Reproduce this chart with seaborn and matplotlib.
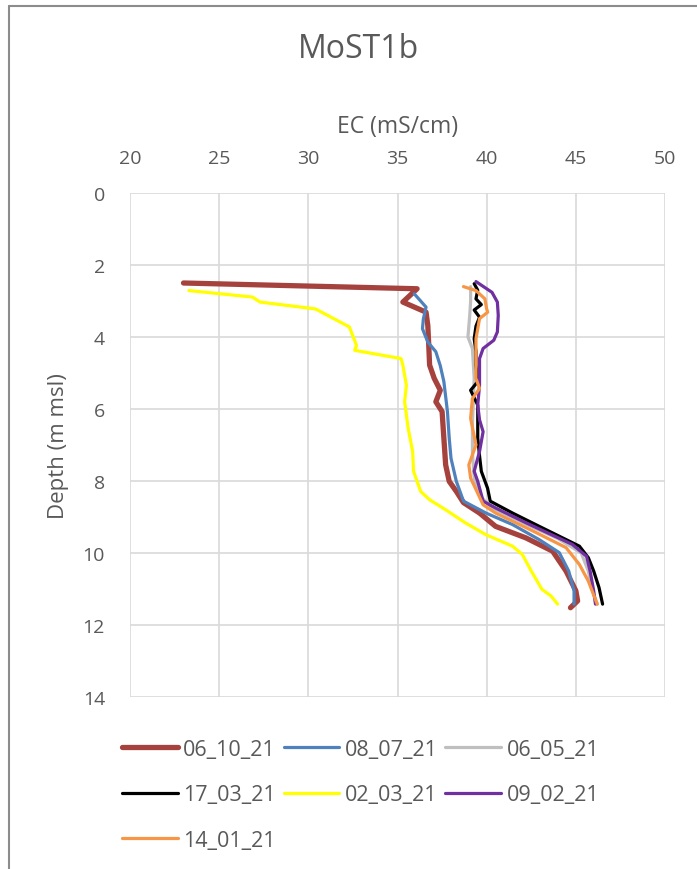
import matplotlib
matplotlib.use("Agg")
import matplotlib.pyplot as plt
from matplotlib.lines import Line2D
import numpy as np
import pandas as pd
import seaborn as sns

# survey dates, in legend order
surveys = ["06_10_21", "08_07_21", "06_05_21", "17_03_21", "02_03_21", "09_02_21", "14_01_21"]
colors = ["#A5423E", "#4F81BD", "#BFBFBF", "#000000", "#FFFF00", "#7030A0", "#F79646"]
widths = [3.8, 2.3, 2.3, 2.3, 2.3, 2.3, 2.3]

# profiles: depth (m msl) and EC (mS/cm)
depth_06_10_21 = [2.50, 2.66, 3.03, 3.31, 3.68, 4.20, 4.78, 5.15, 5.48, 5.80, 6.07, 6.81, 7.55, 8.01,
                  8.29, 8.60, 8.89, 9.26, 9.58, 9.95, 10.50, 11.05, 11.33, 11.52]
ec_06_10_21 = [23.0, 36.1, 35.3, 36.6, 36.7, 36.75, 36.8, 37.06, 37.4, 37.15, 37.5, 37.6, 37.7, 37.9,
               38.3, 38.7, 39.6, 40.5, 42.2, 43.7, 44.45, 45.0, 45.1, 44.7]

depth_08_07_21 = [2.80, 3.17, 3.50, 3.77, 4.14, 4.41, 4.80, 5.24, 6.07, 6.81, 7.37, 8.01, 8.56, 8.89,
                  9.21, 9.63, 9.99, 10.50, 11.05, 11.42]
ec_08_07_21 = [35.94, 36.6, 36.45, 36.4, 36.7, 37.15, 37.4, 37.6, 37.8, 37.9, 38.0, 38.3, 38.7, 39.96,
               41.45, 42.95, 44.07, 44.6, 44.9, 44.9]

depth_06_05_21 = [2.60, 3.00, 3.40, 4.00, 4.32, 5.15, 6.45, 7.20, 7.92, 8.40, 8.75, 9.20, 9.60, 10.0,
                  10.5, 11.0, 11.42]
ec_06_05_21 = [39.1, 39.1, 39.05, 38.95, 39.2, 39.3, 39.2, 39.2, 39.3, 39.6, 40.3, 42.2, 44.0, 45.3,
               45.7, 45.9, 46.2]

depth_17_03_21 = [2.52, 2.70, 2.94, 3.10, 3.25, 3.45, 3.70, 4.05, 4.40, 4.78, 5.24, 5.48, 5.89, 6.40,
                  6.81, 7.30, 7.73, 8.20, 8.56, 8.89, 9.26, 9.81, 10.13, 10.50, 10.96, 11.42]
ec_17_03_21 = [39.3, 39.5, 39.4, 39.7, 39.3, 39.6, 39.4, 39.3, 39.4, 39.4, 39.5, 39.1, 39.5, 39.5,
               39.5, 39.6, 39.7, 40.05, 40.2, 41.45, 42.95, 45.2, 45.7, 46.0, 46.3, 46.5]

depth_02_03_21 = [2.71, 2.89, 3.03, 3.22, 3.72, 4.23, 4.37, 4.60, 4.78, 5.34, 5.80, 6.54, 7.18, 7.73,
                  8.29, 8.52, 8.80, 9.16, 9.49, 9.81, 10.04, 10.50, 11.01, 11.19, 11.42]
ec_02_03_21 = [23.3, 26.86, 27.3, 30.4, 32.3, 32.7, 32.6, 35.2, 35.3, 35.5, 35.4, 35.6, 35.85, 35.9,
               36.3, 36.8, 37.7, 38.8, 39.95, 41.45, 42.0, 42.5, 43.1, 43.6, 43.98]

depth_09_02_21 = [2.46, 2.76, 3.03, 3.40, 3.86, 4.09, 4.32, 4.60, 5.34, 5.89, 6.30, 6.63, 7.18, 7.73,
                  8.01, 8.56, 8.75, 9.16, 9.76, 10.09, 10.50, 11.05, 11.42]
ec_09_02_21 = [39.4, 40.3, 40.6, 40.65, 40.6, 40.4, 39.8, 39.6, 39.6, 39.5, 39.6, 39.8, 39.6, 39.3,
               39.5, 39.8, 40.5, 42.2, 44.8, 45.6, 45.8, 46.0, 46.1]

depth_14_01_21 = [2.60, 2.71, 2.94, 3.22, 3.31, 3.49, 4.05, 5.15, 5.43, 5.71, 6.26, 7.00, 7.55, 7.92,
                  8.66, 8.89, 9.39, 9.85, 10.32, 10.78, 11.42]
ec_14_01_21 = [38.7, 39.4, 39.9, 40.0, 40.06, 39.6, 39.4, 39.4, 39.6, 39.2, 39.1, 39.4, 39.0, 39.1,
               39.8, 40.5, 42.6, 44.45, 45.2, 45.7, 46.2]

profiles = {
    "06_10_21": (depth_06_10_21, ec_06_10_21),
    "08_07_21": (depth_08_07_21, ec_08_07_21),
    "06_05_21": (depth_06_05_21, ec_06_05_21),
    "17_03_21": (depth_17_03_21, ec_17_03_21),
    "02_03_21": (depth_02_03_21, ec_02_03_21),
    "09_02_21": (depth_09_02_21, ec_09_02_21),
    "14_01_21": (depth_14_01_21, ec_14_01_21),
}

x_ticks = [20, 25, 30, 35, 40, 45, 50]
y_ticks = [0, 2, 4, 6, 8, 10, 12, 14]

df = pd.concat(
    [pd.DataFrame({"survey": s, "depth": d, "ec": e}) for s, (d, e) in profiles.items()],
    ignore_index=True,
)

sns.set_theme(style="white")
plt.rcParams["font.family"] = ["Open Sans", "DejaVu Sans"]
text_col = "#595959"

fig = plt.figure(figsize=(6.97, 8.70), dpi=100)
ax = fig.add_axes([130 / 697, 1 - 698 / 870, 535 / 697, 504 / 870])

for s, c, lw in zip(surveys, colors, widths):
    sub = df[df["survey"] == s]
    sns.lineplot(data=sub, x="ec", y="depth", sort=False, estimator=None, color=c,
                 linewidth=lw, solid_capstyle="round", solid_joinstyle="round", ax=ax, label=s)

ax.set_xlim(20, 50)
ax.set_ylim(14, 0)
ax.set_xticks(x_ticks)
ax.set_yticks(y_ticks)
ax.xaxis.tick_top()
ax.xaxis.set_label_position("top")
ax.grid(True, color="#d9d9d9", linewidth=1.2)
for sp in ax.spines.values():
    sp.set_visible(False)
ax.tick_params(axis="x", length=0, pad=19, labelsize=14, labelcolor=text_col)
ax.tick_params(axis="y", length=0, pad=18, labelsize=14, labelcolor=text_col)
ax.set_xlabel("EC (mS/cm)", fontsize=16.5, color=text_col, labelpad=12)
ax.set_ylabel("Depth (m msl)", fontsize=16, color=text_col, labelpad=10)

fig.text(359 / 697, 1 - 50 / 870, "MoST1b", ha="center", va="center", fontsize=23, color=text_col)

# legend laid out row by row (matplotlib fills columns first)
handles, labels = ax.get_legend_handles_labels()
order = [0, 3, 6, 1, 4, 2, 5]
leg = ax.legend([handles[i] for i in order], [labels[i] for i in order], ncol=3,
                loc="upper left", bbox_to_anchor=(122 / 697, 1 - 740 / 870),
                bbox_transform=fig.transFigure, frameon=False, fontsize=15.5,
                handlelength=2.6, handletextpad=0.25, columnspacing=0.35,
                labelspacing=1.13, borderpad=0, borderaxespad=0)
for t in leg.get_texts():
    t.set_color(text_col)

# chart-area border (only top and left edges fall inside the picture)
fig.add_artist(Line2D([9 / 697, 1.0], [1 - 7 / 870] * 2, transform=fig.transFigure,
                      color="#8c8c8c", linewidth=1.5))
fig.add_artist(Line2D([9 / 697] * 2, [0.0, 1 - 7 / 870], transform=fig.transFigure,
                      color="#8c8c8c", linewidth=1.5))

fig.savefig("out.png", dpi=100)
